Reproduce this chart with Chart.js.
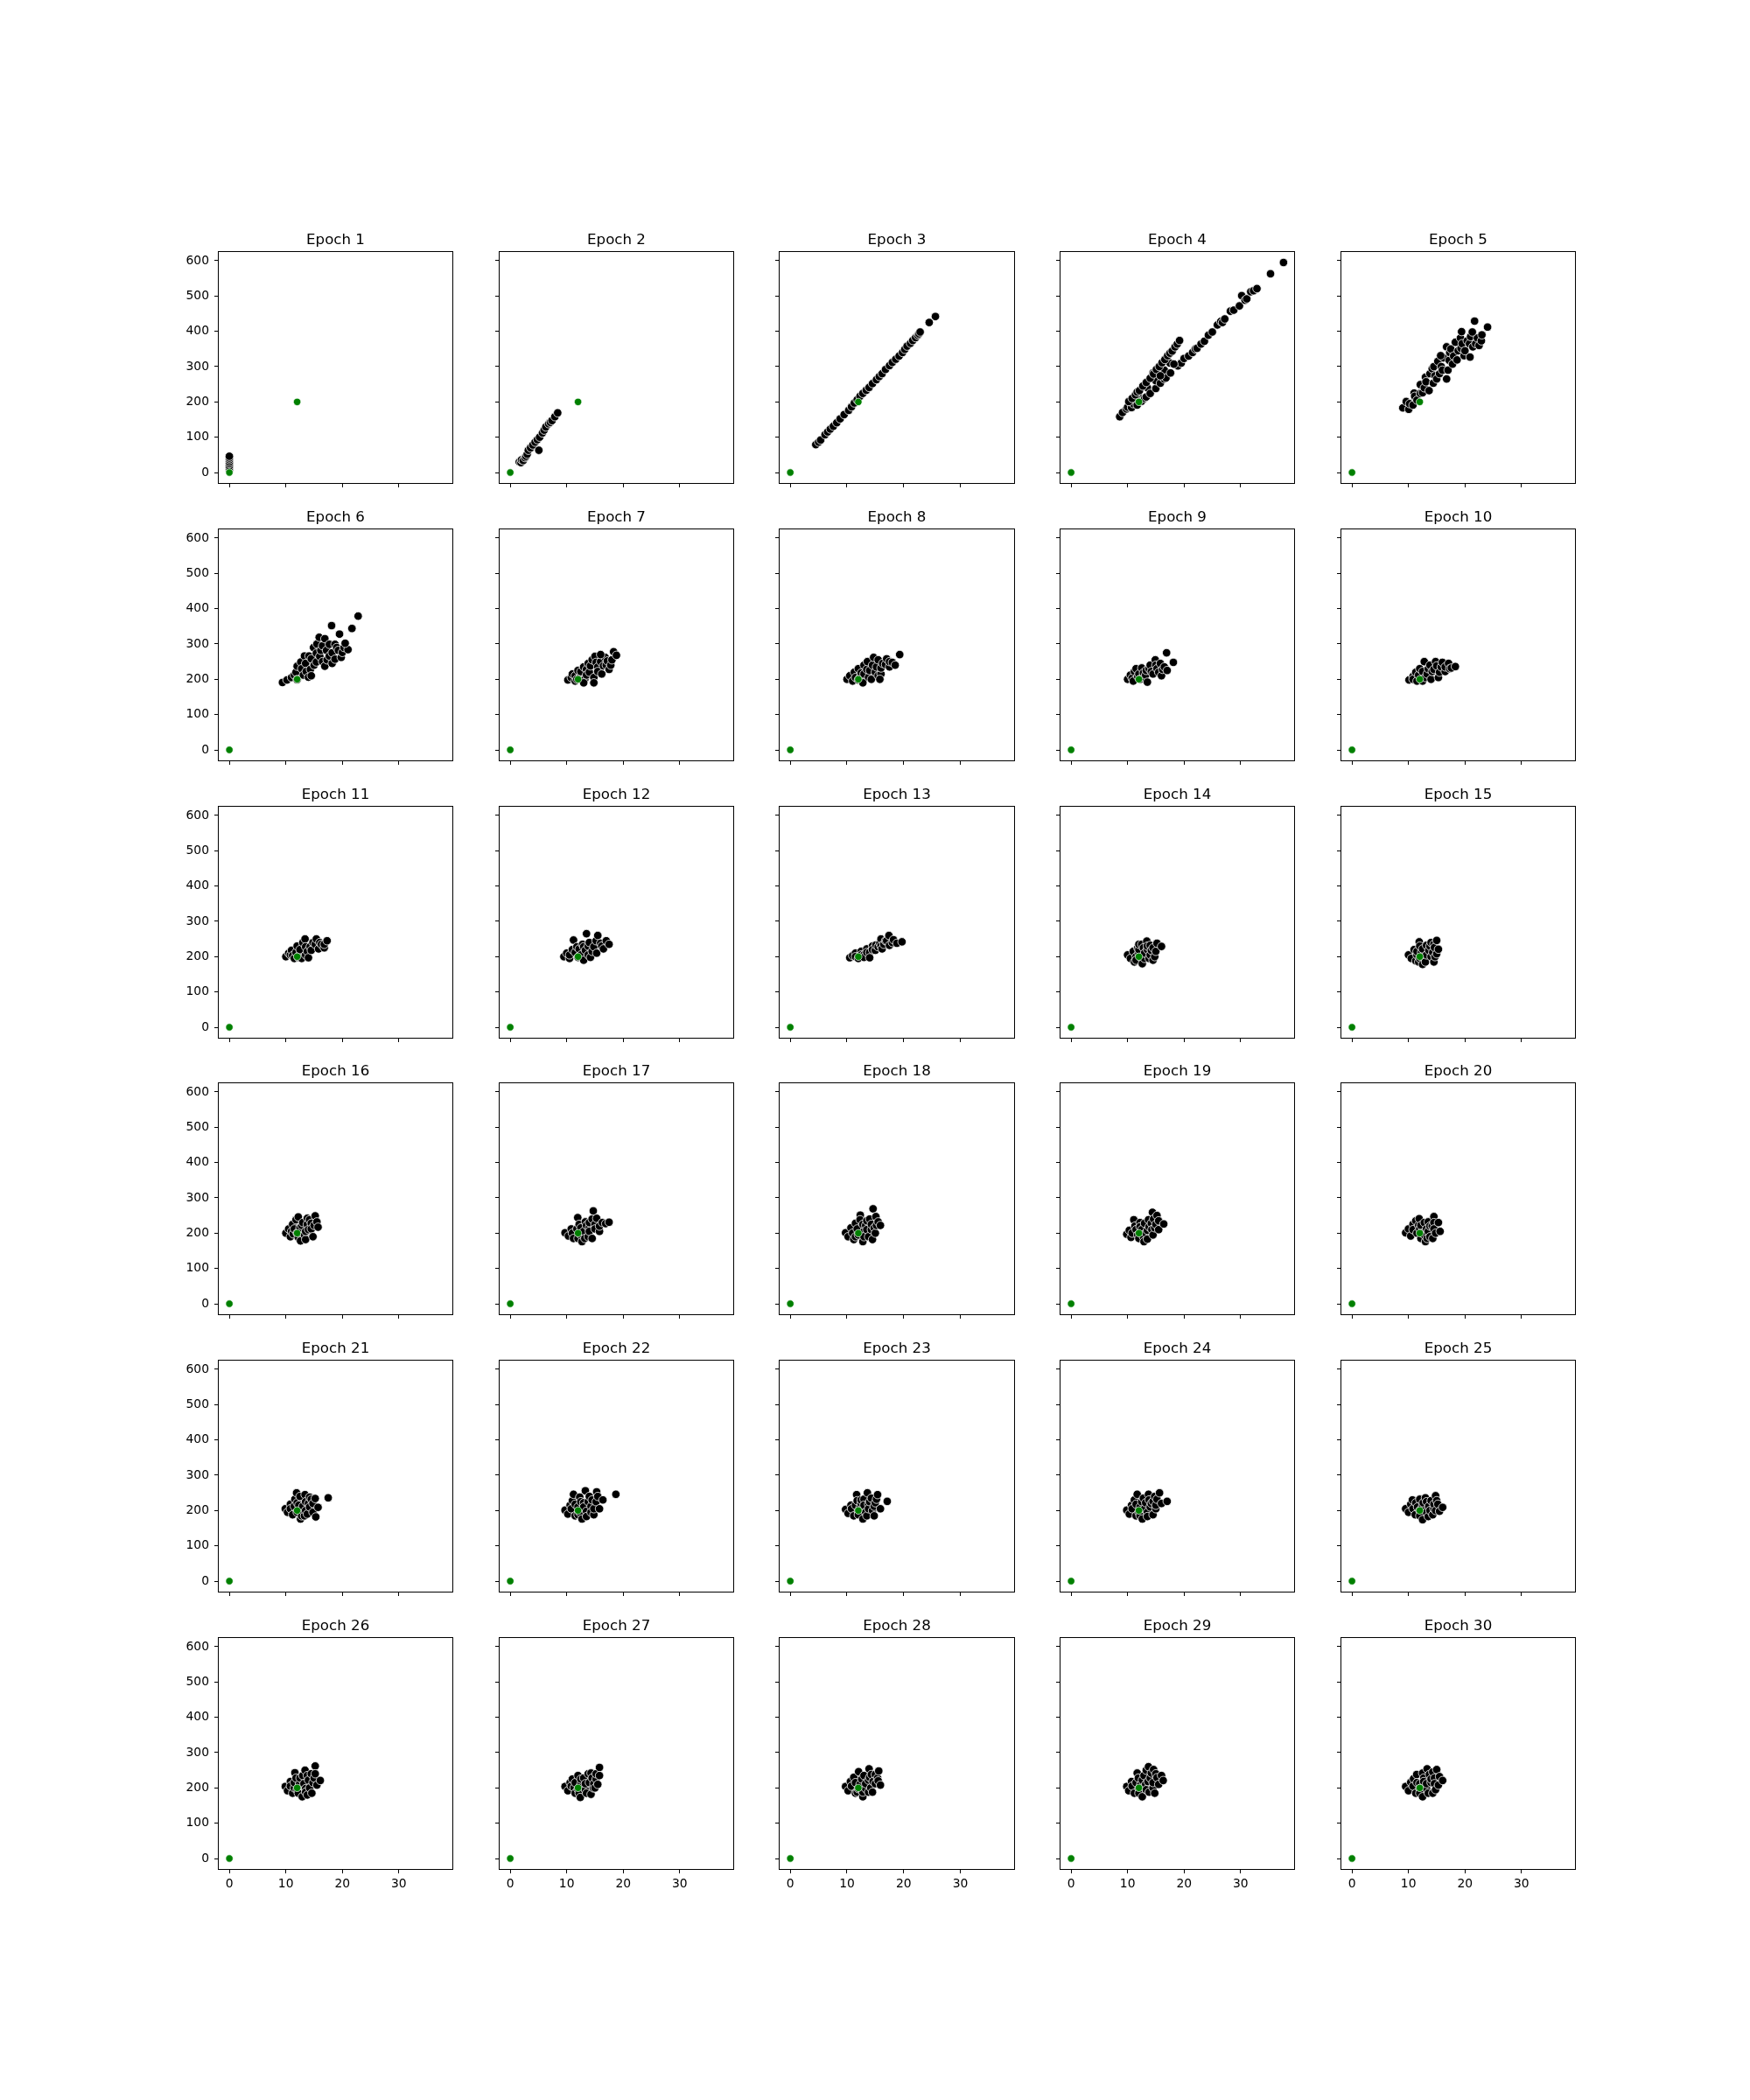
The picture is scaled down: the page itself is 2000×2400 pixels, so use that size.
<!DOCTYPE html>
<html>
<head>
<meta charset="utf-8">
<script src="https://cdn.jsdelivr.net/npm/chart.js@4.4.1/dist/chart.umd.min.js"></script>
<style>
  html, body { margin:0; padding:0; background:#fff; }
  #wrap { position:relative; width:2000px; height:2400px; background:#fff; overflow:hidden; }
  canvas { position:absolute; }
</style>
</head>
<body>
<div id="wrap"></div>
<script>
// ---------- data ----------
const titles = ["Epoch 1","Epoch 2","Epoch 3","Epoch 4","Epoch 5","Epoch 6","Epoch 7","Epoch 8","Epoch 9","Epoch 10",
  "Epoch 11","Epoch 12","Epoch 13","Epoch 14","Epoch 15","Epoch 16","Epoch 17","Epoch 18","Epoch 19","Epoch 20",
  "Epoch 21","Epoch 22","Epoch 23","Epoch 24","Epoch 25","Epoch 26","Epoch 27","Epoch 28","Epoch 29","Epoch 30"];
const xTicks = [0, 10, 20, 30];
const yTicks = [0, 100, 200, 300, 400, 500, 600];
const xRange = [-1.88, 39.48];
const yRange = [-29.75, 624.75];
const greenPts = [[0,0],[12,200]];

const e1 = [[0,8],[0,14],[0,19],[0,25],[0,30],[0,36],[0,41],[0,46]];
const e2 = [[1.6,30],[1.9,28],[2.0,36],[2.3,34],[2.6,42],[2.8,46],[3.0,52],[3.2,63],[3.6,70],[4.0,78],[4.4,86],[4.8,93],[5.06,63],[5.2,100],[5.7,112],[6.0,120],[6.3,129],[6.8,138],[7.1,142],[7.4,147],[7.9,158],[8.4,169]];
const e3 = [[4.5,79],[5.0,86],[5.36,92],[6.13,107],[6.6,115],[7.06,123],[7.6,131],[8.2,141],[8.8,152],[9.5,164],[10.3,176],[10.8,186],[11.3,197],[11.8,206],[12.3,216],[12.8,224],[13.4,233],[13.9,241],[14.5,252],[15.2,263],[15.7,272],[16.2,280],[16.8,292],[17.5,303],[18.0,312],[18.6,321],[19.2,330],[19.8,340],[20.2,349],[20.6,358],[21.2,366],[21.6,374],[22.1,382],[22.5,389],[22.7,393],[22.9,398],[24.5,425],[25.6,442]];
const e4 = [[8.6,158],[9.1,170],[9.8,180],[10.0,185],[10.7,184],[11.0,195],[11.7,191],[12.0,215],[12.5,202],[13.0,210],[13.3,214],[13.5,240],[14.0,224],[15.0,238],[15.0,260],[15.8,253],[16.5,265],[16.5,290],[16.8,268],[17.5,310],[17.6,282],[18.9,302],[19.5,310],[20.0,323],[20.8,330],[21.5,340],[22.0,350],[22.3,352],[23.0,364],[23.6,372],[24.3,389],[25.0,398],[25.9,418],[26.5,428],[26.8,425],[27.2,435],[28.2,457],[28.8,460],[29.8,472],[30.2,501],[30.8,488],[31.1,492],[31.8,512],[32.3,515],[32.9,521],[35.3,563],[37.6,595],
  [10.2,201],[10.8,210],[11.4,220],[11.7,228],[12.1,232],[12.7,245],[13.3,255],[14.0,267],[14.5,282],[14.6,279],[15.1,292],[15.6,300],[15.8,274],[16.1,311],[16.6,320],[17.1,331],[17.5,338],[17.9,344],[18.2,307],[18.4,356],[18.8,364],[19.2,374]];
const e5 = [[9.0,183],[9.6,201],[10.05,179],[10.2,195],[10.8,191],[11.0,225],[11.1,216],[11.5,205],[12.1,249],[12.1,224],[12.5,226],[12.8,240],[13.0,270],[13.1,257],[13.65,232],[13.8,280],[14.4,253],[14.2,294],[14.5,300],[14.7,274],[15.0,265],[15.2,315],[15.5,280],[15.8,300],[16.0,290],[16.2,325],[16.75,265],[15.7,331],[16.75,356],[17.0,290],[17.2,318],[17.3,340],[17.5,350],[17.8,307],[18.0,330],[18.3,369],[18.6,319],[18.8,345],[19.2,381],[19.3,352],[19.5,365],[19.85,331],[20.0,345],[20.4,373],[20.8,365],[20.9,327],[21.0,385],[21.4,356],[21.9,365],[22.2,381],[22.5,360],[22.9,373],[23.0,390],[19.4,399],[21.3,398],[21.7,429],[24.0,412]];
const e6 = [[9.4,191],[10.2,198],[11.0,205],[11.5,212],[11.8,220],[12.0,237],[12.0,199],[12.65,249],[12.8,230],[13.1,212],[13.3,266],[13.5,245],[13.6,222],[14.0,206],[14.1,266],[14.35,228],[14.5,258],[14.5,210],[14.9,290],[15.0,240],[15.4,249],[15.4,274],[15.5,300],[15.9,319],[16.0,265],[16.2,282],[16.5,295],[16.5,250],[16.9,315],[16.9,237],[17.2,282],[17.3,255],[17.7,266],[17.7,299],[18.2,275],[18.2,245],[18.7,299],[18.7,257],[19.0,290],[19.3,282],[19.8,262],[20.0,276],[20.3,290],[21.0,284],[18.1,352],[22.8,379],[21.7,344],[19.5,328],[20.5,302]];
const e7 = [[10.2,198],[10.8,205],[11.0,215],[11.5,195],[11.5,210],[11.8,200],[12.0,225],[12.5,210],[12.5,222],[12.8,198],[13.0,235],[13.2,200],[13.5,228],[13.5,212],[13.8,245],[14.0,220],[14.2,238],[14.5,255],[14.8,205],[15.0,265],[15.2,248],[15.5,235],[15.5,222],[16.0,250],[16.2,215],[16.5,238],[16.8,262],[17.0,240],[17.2,252],[17.5,228],[17.8,240],[18.0,255],[18.3,278],[18.8,268],[14.8,190],[13.0,190],[16.0,270]];
const e8 = [[10.0,200],[10.5,210],[11.0,195],[11.3,220],[11.5,205],[12.0,230],[12.0,198],[12.3,205],[12.5,218],[13.0,240],[13.0,215],[13.5,228],[13.6,250],[13.8,205],[14.0,225],[14.3,200],[14.5,240],[14.7,262],[15.0,220],[15.2,235],[15.5,255],[15.5,210],[16.0,215],[16.0,232],[16.3,245],[16.8,242],[17.0,258],[17.5,235],[17.5,250],[18.0,248],[18.5,240],[12.8,190],[15.8,200],[19.3,270]];
const e9 = [[10.0,200],[10.5,212],[10.8,203],[11.0,195],[11.2,222],[11.5,230],[11.8,208],[12.0,215],[12.2,200],[12.5,232],[12.8,218],[13.0,205],[13.2,212],[13.3,225],[13.5,192],[13.8,230],[14.0,240],[14.2,222],[14.5,215],[14.9,255],[15.0,240],[15.2,230],[15.5,220],[15.8,245],[16.0,210],[16.2,228],[16.5,235],[17.0,225],[16.9,275],[18.1,248]];
const e10 = [[10.1,198],[10.8,208],[10.8,200],[11.3,220],[11.5,195],[11.8,212],[12.0,230],[12.5,195],[12.5,222],[12.8,250],[13.0,205],[13.3,215],[13.5,230],[13.8,240],[14.0,200],[14.2,222],[14.5,228],[14.8,250],[15.0,238],[15.3,205],[15.5,220],[15.8,235],[16.0,248],[16.5,222],[16.5,235],[17.1,245],[17.3,230],[17.6,232],[18.3,236]];
const e11 = [[10.0,200],[10.5,210],[10.8,205],[11.0,218],[11.2,203],[11.5,195],[11.8,212],[12.0,230],[12.2,198],[12.5,205],[12.5,220],[12.8,195],[13.0,240],[13.4,250],[13.5,228],[13.5,205],[13.8,215],[14.0,197],[14.3,228],[14.5,218],[14.8,240],[15.2,235],[15.4,250],[15.8,222],[16.0,240],[16.3,235],[16.8,225],[16.8,235],[17.3,245]];
const e12 = [[9.5,200],[10.0,210],[10.5,195],[10.5,205],[11.0,220],[11.2,247],[11.5,212],[11.8,228],[12.0,198],[12.2,222],[12.5,205],[12.8,235],[13.0,190],[13.0,228],[13.3,218],[13.5,265],[13.8,230],[13.8,205],[14.0,240],[14.2,198],[14.5,215],[14.8,228],[15.2,245],[15.3,210],[15.5,260],[16.0,238],[16.2,230],[16.5,222],[17.0,245],[17.5,235]];
const e13 = [[10.5,197],[11.0,203],[11.5,210],[11.5,200],[12.0,195],[12.5,215],[12.5,205],[13.0,205],[13.0,198],[13.5,222],[13.5,212],[14.0,212],[14.0,197],[14.5,230],[14.5,220],[15.0,218],[15.1,233],[15.5,228],[15.8,238],[16.0,250],[16.0,230],[16.2,222],[16.5,235],[16.8,245],[17.0,245],[17.4,260],[17.5,232],[18.0,240],[18.2,248],[18.8,238],[19.7,242]];
const e14 = [[10.0,205],[10.5,195],[11.0,215],[11.2,185],[11.5,200],[11.5,190],[11.8,225],[12.0,210],[12.0,220],[12.0,235],[12.5,235],[12.5,195],[12.6,180],[12.8,225],[13.0,195],[13.0,210],[13.4,244],[13.5,220],[13.5,230],[13.8,195],[14.0,205],[14.0,232],[14.2,218],[14.5,190],[14.5,225],[14.8,200],[15.0,215],[15.2,238],[16.0,229]];
const e15 = [[10.0,205],[10.5,195],[11.0,220],[11.3,188],[11.5,205],[11.5,215],[11.8,185],[11.9,242],[12.0,230],[12.0,195],[12.3,212],[12.5,178],[12.5,222],[13.0,195],[13.0,185],[13.2,232],[13.2,205],[13.6,218],[13.8,230],[14.0,240],[14.0,200],[14.3,212],[14.5,185],[14.5,235],[14.6,226],[14.7,200],[15.0,246],[15.0,208],[15.3,221]];
const e16 = [[10.0,200],[10.5,212],[10.8,190],[11.0,205],[11.2,225],[11.3,198],[11.5,212],[11.8,238],[12.0,200],[12.2,246],[12.2,188],[12.5,215],[12.6,178],[12.8,222],[13.0,230],[13.3,195],[13.5,182],[13.5,205],[13.8,242],[13.8,225],[14.0,210],[14.2,238],[14.5,228],[14.5,212],[14.8,190],[15.0,222],[15.2,249],[15.5,232],[15.7,217]];
const e17 = [[9.7,201],[10.3,192],[10.8,212],[11.0,200],[11.2,185],[11.8,212],[11.95,244],[12.0,185],[12.2,225],[12.5,215],[12.5,195],[12.7,176],[13.0,205],[13.2,185],[13.3,232],[13.5,222],[13.8,190],[14.0,215],[14.0,205],[14.0,230],[14.5,240],[14.5,185],[14.7,263],[15.0,225],[15.0,212],[15.3,242],[15.8,205],[15.8,220],[16.3,230],[16.9,227],[17.5,231]];
const e18 = [[9.75,201],[10.2,190],[10.7,215],[11.0,200],[11.2,182],[11.5,228],[11.5,190],[11.8,212],[12.0,195],[12.35,251],[12.3,238],[12.8,176],[12.8,225],[13.0,205],[13.0,190],[13.3,222],[13.5,210],[13.5,235],[13.8,190],[14.0,240],[14.3,210],[14.3,225],[14.5,182],[14.6,269],[14.8,215],[15.1,247],[15.0,200],[15.2,222],[15.5,232],[15.9,222]];
const e19 = [[9.85,197],[10.3,208],[10.6,188],[10.8,200],[11.1,238],[11.3,220],[11.5,210],[11.8,195],[12.0,185],[12.2,230],[12.2,218],[12.5,210],[12.8,190],[12.9,176],[13.0,228],[13.2,200],[13.5,183],[13.5,208],[13.7,238],[13.8,218],[14.2,228],[14.3,210],[14.4,259],[14.6,240],[14.5,195],[14.8,215],[15.0,225],[15.2,250],[15.5,210],[15.5,235],[16.4,226]];
const e20 = [[9.5,201],[10.0,212],[10.4,192],[10.8,225],[10.8,210],[11.3,235],[11.5,200],[11.8,222],[11.9,241],[12.0,212],[12.2,222],[12.2,185],[12.5,200],[12.8,230],[12.8,195],[13.0,176],[13.2,212],[13.3,185],[13.5,232],[13.5,205],[13.8,190],[13.8,220],[14.2,220],[14.3,185],[14.5,247],[14.5,230],[14.5,212],[14.8,200],[15.3,230],[15.6,205]];
const e21 = [[9.9,205],[10.3,195],[10.8,218],[10.8,205],[11.2,188],[11.5,212],[11.6,232],[11.9,250],[12.0,222],[12.0,195],[12.3,215],[12.5,240],[12.6,176],[12.8,185],[13.0,200],[13.0,212],[13.3,185],[13.4,245],[13.5,225],[13.5,200],[13.8,190],[14.0,220],[14.2,210],[14.2,238],[14.5,232],[14.8,195],[14.8,220],[15.2,234],[15.3,182],[15.7,209],[17.5,236]];
const e22 = [[9.7,201],[10.2,190],[10.6,215],[10.8,205],[11.0,228],[11.2,246],[11.5,185],[11.5,218],[12.0,210],[12.0,188],[12.3,238],[12.3,195],[12.5,225],[12.7,176],[13.0,222],[13.0,210],[13.3,256],[13.5,198],[13.5,183],[13.8,225],[14.0,240],[14.3,212],[14.3,195],[14.5,230],[14.8,188],[14.8,205],[15.2,225],[15.3,253],[15.5,240],[15.8,205],[16.4,230],[18.7,246]];
const e23 = [[9.75,203],[10.2,192],[10.7,215],[10.8,205],[11.2,185],[11.5,215],[11.7,245],[11.8,228],[12.0,198],[12.0,188],[12.3,208],[12.5,220],[12.5,230],[12.8,176],[13.0,232],[13.0,215],[13.3,195],[13.5,185],[13.6,250],[13.8,218],[13.8,205],[14.0,225],[14.3,235],[14.5,200],[14.8,185],[14.8,212],[15.0,222],[15.2,232],[15.4,245],[15.9,205],[17.1,226]];
const e24 = [[9.85,201],[10.3,190],[10.7,215],[10.8,205],[11.2,230],[11.5,185],[11.5,218],[11.7,246],[12.0,195],[12.2,210],[12.2,185],[12.5,225],[12.6,176],[12.8,235],[13.0,205],[13.2,222],[13.5,195],[13.5,183],[13.7,246],[13.8,230],[14.0,210],[14.2,220],[14.5,226],[14.5,188],[14.8,240],[15.0,205],[15.0,215],[15.2,232],[15.65,250],[16.0,220],[17.0,226]];
const e25 = [[9.5,205],[10.0,195],[10.4,218],[10.7,230],[10.8,205],[11.2,188],[11.3,222],[11.6,210],[12.0,232],[12.0,200],[12.0,185],[12.5,174],[12.5,212],[12.6,222],[13.0,236],[13.2,195],[13.2,225],[13.5,183],[13.6,212],[13.8,200],[14.0,228],[14.3,188],[14.5,205],[14.5,218],[14.8,242],[14.8,200],[15.0,228],[15.2,218],[15.5,198],[16.05,209]];
const e26 = [[9.9,204],[10.3,192],[10.8,218],[10.8,205],[11.2,185],[11.5,200],[11.5,215],[11.6,243],[11.8,228],[12.0,195],[12.2,185],[12.4,210],[12.5,228],[12.9,175],[13.0,235],[13.2,212],[13.4,250],[13.5,198],[13.5,188],[13.8,180],[13.8,235],[14.0,222],[14.2,200],[14.5,240],[14.6,185],[14.8,215],[15.0,228],[15.2,262],[15.2,240],[15.5,208],[16.1,221]];
const e27 = [[9.7,204],[10.2,192],[10.6,215],[10.8,205],[11.0,225],[11.3,200],[11.5,185],[11.5,215],[12.0,235],[12.0,196],[12.2,185],[12.4,173],[12.5,210],[12.5,225],[13.0,228],[13.3,195],[13.3,212],[13.5,185],[13.8,240],[14.0,215],[14.3,242],[14.3,182],[14.5,228],[14.7,200],[14.8,212],[15.0,200],[15.2,225],[15.2,240],[15.5,210],[15.8,258],[15.8,235]];
const e28 = [[9.75,204],[10.2,192],[10.6,218],[10.8,205],[11.2,230],[11.5,185],[11.5,215],[11.8,188],[12.0,198],[12.05,246],[12.3,210],[12.6,225],[12.8,175],[12.8,188],[13.0,235],[13.3,198],[13.3,212],[13.8,188],[13.9,254],[13.8,222],[14.0,230],[14.2,200],[14.3,238],[14.5,188],[14.6,218],[15.0,212],[15.0,238],[15.4,228],[15.5,220],[15.6,248],[15.9,208]];
const e29 = [[9.85,204],[10.2,192],[10.7,218],[10.8,205],[11.2,185],[11.5,215],[11.7,242],[11.9,228],[12.0,198],[12.0,185],[12.3,208],[12.6,175],[12.6,222],[12.9,235],[13.2,210],[13.3,195],[13.3,250],[13.7,260],[13.6,218],[13.8,188],[14.0,228],[14.2,242],[14.5,200],[14.5,215],[14.6,252],[14.8,185],[15.0,240],[15.2,229],[15.5,210],[16.0,235],[16.3,221]];
const e30 = [[9.5,204],[10.0,192],[10.4,216],[10.8,205],[10.9,226],[11.3,185],[11.45,238],[11.5,215],[12.0,212],[12.0,198],[12.0,185],[12.5,175],[12.5,242],[12.7,228],[12.7,218],[13.2,198],[13.2,212],[13.3,254],[13.5,185],[13.7,238],[14.0,215],[14.0,225],[14.3,185],[14.3,245],[14.6,228],[14.6,212],[14.8,195],[15.0,252],[15.3,208],[15.5,232],[16.05,221]];

const epochData = [e1,e2,e3,e4,e5,e6,e7,e8,e9,e10,e11,e12,e13,e14,e15,e16,e17,e18,e19,e20,e21,e22,e23,e24,e25,e26,e27,e28,e29,e30];

// ---------- layout ----------
const FIG = {left:250, top:288, axW:267.24, axH:264, colStep:320.69, rowStep:316.8, cols:5, rows:6};
const PL = 60, PR = 12, PT = 40, PB = 40;
const FONT = "'DejaVu Sans', 'Liberation Sans', sans-serif";

Chart.defaults.font.family = FONT;
Chart.defaults.color = '#000';

const framePlugin = {
  id: 'frame',
  afterDraw(chart) {
    const a = chart.chartArea, ctx = chart.ctx;
    ctx.save();
    ctx.strokeStyle = '#000';
    ctx.lineWidth = 1;
    ctx.strokeRect(a.left - 0.5, a.top - 0.5, a.right - a.left + 1, a.bottom - a.top + 1);
    ctx.restore();
  }
};

const toPts = arr => arr.map(p => ({x: p[0], y: p[1]}));
const wrap = document.getElementById('wrap');

epochData.forEach((pts, idx) => {
  const r = Math.floor(idx / FIG.cols), c = idx % FIG.cols;
  const axL = Math.round(FIG.left + c * FIG.colStep);
  const axR = Math.round(FIG.left + c * FIG.colStep + FIG.axW);
  const axT = Math.round(FIG.top + r * FIG.rowStep);
  const axB = Math.round(FIG.top + r * FIG.rowStep + FIG.axH);
  const cw = (axR - axL) + PL + PR;
  const ch = (axB - axT) + PT + PB;
  const cv = document.createElement('canvas');
  cv.width = cw; cv.height = ch;
  cv.style.width = cw + 'px'; cv.style.height = ch + 'px';
  cv.style.left = (axL - PL) + 'px';
  cv.style.top = (axT - PT) + 'px';
  wrap.appendChild(cv);

  const showX = (r === FIG.rows - 1);
  const showY = (c === 0);

  new Chart(cv.getContext('2d'), {
    type: 'scatter',
    data: {
      datasets: [
        { data: toPts(greenPts), backgroundColor: '#008000', borderColor: '#ffffff', borderWidth: 0.7,
          pointRadius: 4.2, pointHoverRadius: 4.2, order: 0 },
        { data: toPts(pts), backgroundColor: '#000000', borderColor: '#ffffff', borderWidth: 0.8,
          pointRadius: 4.8, pointHoverRadius: 4.8, order: 1 }
      ]
    },
    options: {
      responsive: false,
      animation: false,
      devicePixelRatio: 1,
      events: [],
      layout: { padding: { left: 0, right: PR, top: 0, bottom: 0 } },
      plugins: {
        legend: { display: false },
        tooltip: { enabled: false },
        title: {
          display: true,
          fullSize: false,
          text: titles[idx],
          color: '#000',
          font: { family: FONT, size: 16.67, weight: 'normal', lineHeight: '20px' },
          padding: { top: 17, bottom: 3 }
        }
      },
      scales: {
        x: {
          type: 'linear',
          min: xRange[0], max: xRange[1],
          afterBuildTicks: s => { s.ticks = xTicks.map(v => ({value: v})); },
          afterFit: s => { s.height = PB; },
          grid: { drawOnChartArea: false, drawTicks: true, tickLength: 5, color: '#000', lineWidth: 1 },
          border: { display: false },
          ticks: { display: showX, padding: 4, color: '#000', font: { family: FONT, size: 13.89 },
                   maxRotation: 0, autoSkip: false, callback: v => String(v) }
        },
        y: {
          type: 'linear',
          min: yRange[0], max: yRange[1],
          afterBuildTicks: s => { s.ticks = yTicks.map(v => ({value: v})); },
          afterFit: s => { s.width = PL; },
          grid: { drawOnChartArea: false, drawTicks: true, tickLength: 5, color: '#000', lineWidth: 1 },
          border: { display: false },
          ticks: { display: showY, padding: 6, color: '#000', font: { family: FONT, size: 13.89 },
                   autoSkip: false, callback: v => String(v) }
        }
      }
    },
    plugins: [framePlugin]
  });
});
</script>
</body>
</html>
